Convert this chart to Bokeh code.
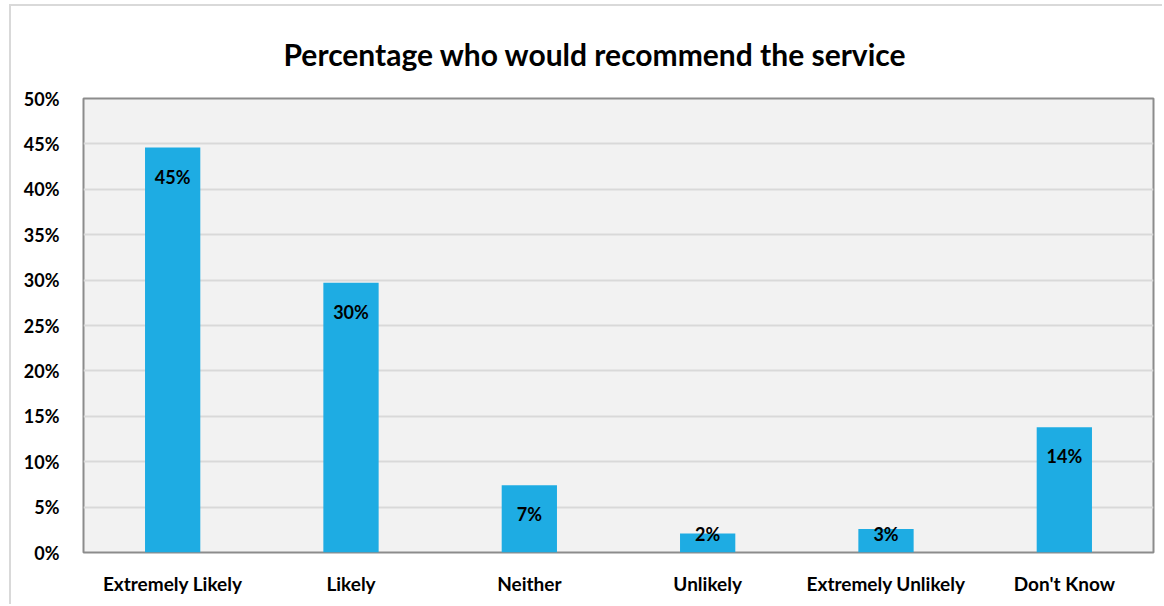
from bokeh.plotting import figure
from bokeh.models import ColumnDataSource, NumeralTickFormatter, FixedTicker, Range1d
from bokeh.core.properties import value
from bokeh.embed import file_html
from bokeh.resources import INLINE

categories = ["Extremely Likely", "Likely", "Neither", "Unlikely", "Extremely Unlikely", "Don't Know"]
shares = [0.446, 0.297, 0.074, 0.021, 0.026, 0.138]
labels = ["45%", "30%", "7%", "2%", "3%", "14%"]
y_ticks = [0.0, 0.05, 0.10, 0.15, 0.20, 0.25, 0.30, 0.35, 0.40, 0.45, 0.50]

FONT = "Lato"
FRAME_H = 454
Y_MAX = 0.5

# label offset inside bar top (screen px), limited for short bars
offsets = []
for v in shares:
    px = v / Y_MAX * FRAME_H
    offsets.append(min(29, max(0, px - 19)))

src = ColumnDataSource(dict(cat=categories, val=shares, lab=labels, off=offsets))

p = figure(x_range=categories, y_range=Range1d(0, Y_MAX),
           width=1153, height=600, output_backend="svg", toolbar_location=None,
           min_border_left=72, min_border_right=11, min_border_top=92, min_border_bottom=54)
p.margin = (4, 0, 0, 9)
p.styles = {"border-left": "2px solid #d9d9d9", "border-top": "2px solid #d9d9d9"}

p.title.text = "Percentage who would recommend the service"
p.title.align = "left"
p.title.text_font = FONT
p.title.text_font_size = "30px"
p.title.text_font_style = "bold"
p.title.text_color = "#000000"
p.title.offset = 200
p.title.standoff = 54

p.background_fill_color = "#f2f2f2"
p.border_fill_color = "#ffffff"
p.outline_line_color = "#8c8c8c"
p.outline_line_width = 2

p.vbar(x="cat", top="val", width=0.31, source=src, color="#1eace3", line_color=None)

p.text(x="cat", y="val", text="lab", source=src, y_offset="off",
       text_align="center", text_baseline="middle",
       text_font=value(FONT), text_font_size="18px", text_font_style="bold", text_color="#000000")

p.yaxis.ticker = FixedTicker(ticks=y_ticks)
p.yaxis.formatter = NumeralTickFormatter(format="0%")
for ax in (p.xaxis, p.yaxis):
    ax.axis_line_color = None
    ax.major_tick_line_color = None
    ax.minor_tick_line_color = None
    ax.major_label_text_font = FONT
    ax.major_label_text_font_style = "bold"
    ax.major_label_text_color = "#000000"
p.yaxis.major_label_text_font_size = "18px"
p.xaxis.major_label_text_font_size = "19px"
p.yaxis.major_label_standoff = 18
p.xaxis.major_label_standoff = 13

p.xgrid.grid_line_color = None
p.ygrid.grid_line_color = "#d9d9d9"
p.ygrid.grid_line_width = 2
p.x_range.range_padding = 0

open("out.html", "w").write(file_html(p, INLINE))
